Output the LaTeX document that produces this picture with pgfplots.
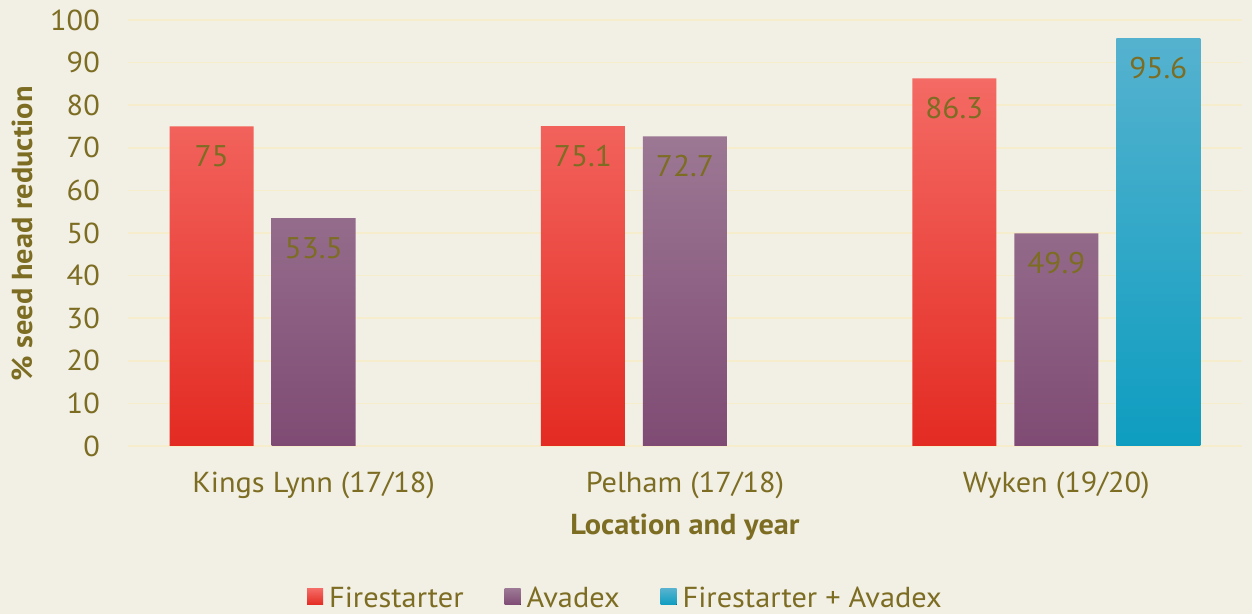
\documentclass[border=0pt]{standalone}
\usepackage{fontspec}
\usepackage{pgfplots}
\pgfplotsset{compat=1.18}
\setmainfont{PT Sans}[FakeStretch=1.05]
\definecolor{bgc}{HTML}{F2EFE4}
\definecolor{tcol}{HTML}{7C6D23}
\definecolor{gridc}{HTML}{F6EDCC}
\definecolor{redtop}{HTML}{F46A64}
\definecolor{redbot}{HTML}{E32B22}
\definecolor{purtop}{HTML}{9C7894}
\definecolor{purbot}{HTML}{7F4B74}
\definecolor{blutop}{HTML}{55B2CF}
\definecolor{blubot}{HTML}{0E9DC0}
\begin{document}
\begin{tikzpicture}
\fill[bgc] (0,0) rectangle (1252bp,614bp);
\useasboundingbox (0,0) rectangle (1252bp,614bp);
\begin{axis}[
  at={(128bp,168bp)}, anchor=south west,
  scale only axis, width=1114bp, height=426bp,
  xmin=-0.5, xmax=2.5, ymin=0, ymax=100,
  ybar=18bp, bar width=84bp,
  xtick={0,1,2},
  xticklabels={Kings Lynn (17/18), Pelham (17/18), Wyken (19/20)},
  ytick={0,10,...,100},
  major tick length=0pt,
  axis line style={draw=none},
  ymajorgrids, grid style={gridc, line width=1.5bp},
  /pgf/number format/assume math mode=true,
  yticklabel style={font=\fontsize{29}{32}\selectfont, text=tcol, anchor=east, inner sep=0pt, xshift=-28bp},
  xticklabel style={font=\fontsize{29}{32}\selectfont, text=tcol, anchor=base, inner sep=0pt, yshift=-46bp},
  xlabel={\bfseries Location and year},
  every axis x label/.style={at={(axis description cs:0.5,0)}, anchor=base, inner sep=0pt, yshift=-88bp, font=\fontsize{29}{32}\selectfont, text=tcol},
  ylabel={\bfseries \% seed head reduction},
  every axis y label/.style={at={(axis description cs:-0.0952,0.498)}, rotate=90, anchor=center, inner sep=0pt, font=\fontsize{29}{32}\selectfont, text=tcol},
  nodes near coords,
  every node near coord/.append style={anchor=base, inner sep=0pt, yshift=-40bp, font=\fontsize{30}{32}\selectfont, text=tcol},
  legend columns=3,
  legend style={at={(axis description cs:0.447,-0.354)}, anchor=center, draw=none, fill=none,
    font=\fontsize{29}{32}\selectfont, text=tcol,
    nodes={inner xsep=3bp, inner ysep=1bp, text depth=0pt},
    /tikz/every odd column/.append style={column sep=3bp},
    /tikz/every even column/.append style={column sep=38bp}},
  legend image code/.code={\fill[#1] (0bp,-8bp) rectangle (16bp,8bp);},
]
\addplot[draw=none, top color=redtop, bottom color=redbot] coordinates {(0,75) (1,75.1) (2,86.3)};
\addplot[draw=none, top color=purtop, bottom color=purbot] coordinates {(0,53.5) (1,72.7) (2,49.9)};
\addplot[draw=none, top color=blutop, bottom color=blubot] coordinates {(2,95.6)};
\legend{Firestarter, Avadex, Firestarter + Avadex}
\end{axis}
\end{tikzpicture}
\end{document}
